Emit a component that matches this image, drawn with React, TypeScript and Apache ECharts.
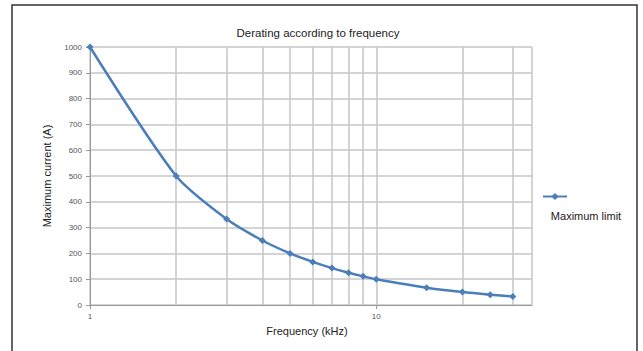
import React, { useEffect, useRef } from "react";
import * as echarts from "echarts";

const frequencies = [1, 2, 3, 4, 5, 6, 7, 8, 9, 10, 15, 20, 25, 30];
const currents = [1000, 500, 333, 250, 200, 167, 143, 125, 111, 100, 67, 50, 40, 33];
const minorGridFreqs = [2, 3, 4, 5, 6, 7, 8, 9, 20, 30];
const xTickLabels = [1, 10];
const seriesName = "Maximum limit";

const font = "'Liberation Sans', Arial, sans-serif";
const blue = "#4a7ebb";
const grid = "#c6c6c6";

export default function App() {
  const ref = useRef<HTMLDivElement>(null);
  useEffect(() => {
    const chart = echarts.init(ref.current!, null, { renderer: "svg" });
    chart.setOption({
      animation: false,
      backgroundColor: "#fff",
      title: {
        text: "Derating according to frequency",
        left: 313,
        top: 22,
        textAlign: "center",
        textStyle: { fontFamily: font, fontSize: 11.5, fontWeight: "normal", color: "#222" },
      },
      grid: { left: 90, right: 111, top: 47, bottom: 46 },
      legend: {
        left: 537,
        top: 187,
        itemWidth: 24,
        itemHeight: 9,
        formatter: () => "",
        data: [seriesName],
      },
      graphic: [
        {
          type: "rect",
          shape: { x: 12, y: 5, width: 625, height: 360 },
          style: { fill: "none", stroke: "#333", lineWidth: 1.5 },
          silent: true,
        },
        {
          type: "text",
          x: 586,
          y: 216,
          style: {
            text: "Maximum limit",
            fontFamily: font,
            fontSize: 11,
            fill: "#222",
            align: "center",
            verticalAlign: "middle",
          },
        },
      ],
      xAxis: {
        type: "log",
        logBase: 10,
        min: 1,
        max: 35,
        name: "Frequency (kHz)",
        nameLocation: "middle",
        nameGap: 20,
        nameTextStyle: { fontFamily: font, fontSize: 11, color: "#222", padding: [0, 0, 0, -8] },
        axisLine: { lineStyle: { color: "#999", width: 1 } },
        axisTick: { show: true, length: 4, lineStyle: { color: "#999" } },
        axisLabel: {
          fontSize: 8,
          color: "#555",
          margin: 7,
          showMaxLabel: false,
          formatter: (v: number) =>
            xTickLabels.some((t) => Math.abs(v - t) < 1e-6) ? String(Math.round(v)) : "",
        },
        splitLine: { show: true, lineStyle: { color: grid, width: 1.5 } },
      },
      yAxis: {
        type: "value",
        min: 0,
        max: 1000,
        interval: 100,
        name: "Maximum current (A)",
        nameLocation: "middle",
        nameGap: 38,
        nameTextStyle: { fontFamily: font, fontSize: 11, color: "#222" },
        axisLine: { show: true, lineStyle: { color: "#999", width: 1 } },
        axisTick: { show: true, length: 4, lineStyle: { color: "#999" } },
        axisLabel: { fontSize: 8, color: "#555", margin: 8, formatter: (v: number) => String(v) },
        splitLine: { show: true, lineStyle: { color: grid, width: 1.5 } },
      },
      series: [
        {
          name: seriesName,
          type: "line",
          data: frequencies.map((f, i) => [f, currents[i]]),
          symbol: "diamond",
          symbolSize: 7,
          showSymbol: true,
          smooth: 0.25,
          itemStyle: { color: blue },
          lineStyle: { color: blue, width: 2.5 },
          z: 3,
          markLine: {
            silent: true,
            symbol: "none",
            z: 1,
            label: { show: false },
            lineStyle: { color: grid, type: "solid", width: 1.5 },
            data: minorGridFreqs.map((f) => ({ xAxis: f })),
          },
        },
      ],
    });
    return () => chart.dispose();
  }, []);
  return <div ref={ref} style={{ width: 643, height: 351, position: "absolute", left: 0, top: 0 }} />;
}
